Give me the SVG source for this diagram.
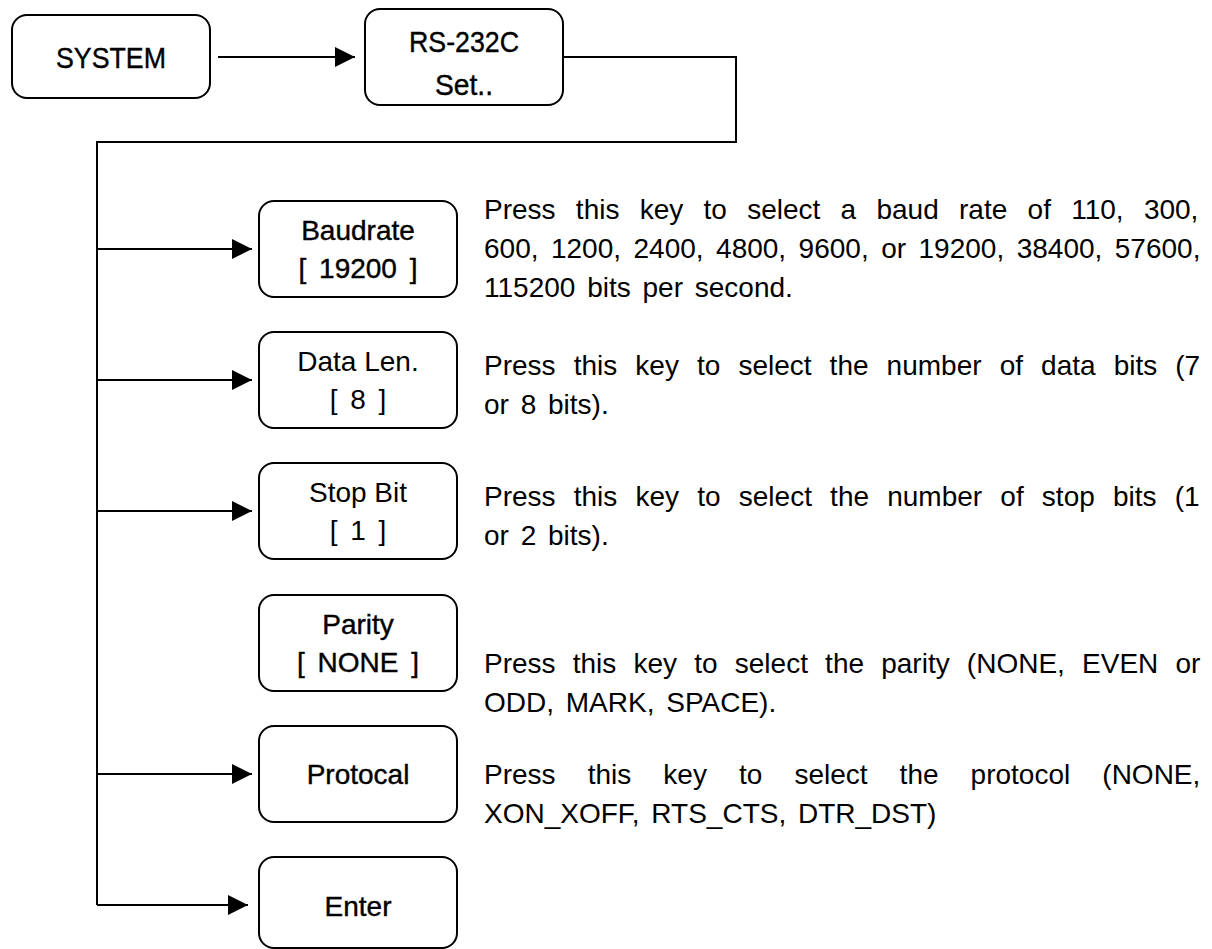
<svg xmlns="http://www.w3.org/2000/svg" width="1212" height="949" viewBox="0 0 1212 949">
<style>
.box{fill:#fff;stroke:#000;stroke-width:2}
.lbl{font-family:"Liberation Sans",Arial,sans-serif;font-size:28px;fill:#000;text-anchor:middle}
.hv{stroke:#000;stroke-width:0.4px}
.big{font-size:30px}
.br{word-spacing:5px}
.desc{font-family:"Liberation Sans",Arial,sans-serif;font-size:28px;fill:#000}
.con{fill:none;stroke:#000;stroke-width:2}
</style>
<defs>
<marker id="ah" markerUnits="userSpaceOnUse" markerWidth="20" markerHeight="20" refX="20" refY="10" orient="auto" viewBox="0 0 20 20">
<path d="M0,0 L20,10 L0,20 z" fill="#000"/>
</marker>
</defs>
<rect width="1212" height="949" fill="#fff"/>
<g id="connectors">
<line class="con" x1="218" y1="57" x2="355" y2="57" marker-end="url(#ah)"/>
<polyline class="con" points="563,57 736,57 736,142 97,142 97,905"/>
<line class="con" x1="97" y1="249" x2="252" y2="249" marker-end="url(#ah)"/>
<line class="con" x1="97" y1="380" x2="252" y2="380" marker-end="url(#ah)"/>
<line class="con" x1="97" y1="511" x2="252" y2="511" marker-end="url(#ah)"/>
<line class="con" x1="97" y1="774" x2="252" y2="774" marker-end="url(#ah)"/>
<line class="con" x1="97" y1="905" x2="248" y2="905" marker-end="url(#ah)"/>
</g>
<g id="system">
<rect class="box" x="12" y="15" width="198" height="83" rx="15"/>
<text class="lbl hv big" x="111" y="68" textLength="110" lengthAdjust="spacingAndGlyphs">SYSTEM</text>
</g>
<g id="rs232c">
<rect class="box" x="365" y="9" width="198" height="96" rx="15"/>
<text class="lbl hv big" x="464" y="52" textLength="110" lengthAdjust="spacingAndGlyphs">RS-232C</text>
<text class="lbl hv big" x="464" y="95" textLength="58" lengthAdjust="spacingAndGlyphs">Set..</text>
</g>
<g id="baudrate">
<rect class="box" x="259" y="201" width="198" height="96" rx="15"/>
<text class="lbl hv" x="358" y="240">Baudrate</text>
<text class="lbl br hv" x="358" y="278">[ 19200 ]</text>
<text class="desc" x="484" y="219" style="word-spacing:12.5px">Press this key to select a baud rate of 110, 300,</text>
<text class="desc" x="484" y="258" style="word-spacing:4.7px">600, 1200, 2400, 4800, 9600, or 19200, 38400, 57600,</text>
<text class="desc" x="484" y="297" style="word-spacing:4px">115200 bits per second.</text>
</g>
<g id="datalen">
<rect class="box" x="259" y="332" width="198" height="96" rx="15"/>
<text class="lbl" x="358" y="371">Data Len.</text>
<text class="lbl br" x="358" y="409">[ 8 ]</text>
<text class="desc" x="484" y="375" style="word-spacing:10.3px">Press this key to select the number of data bits (7</text>
<text class="desc" x="484" y="414" style="word-spacing:4px">or 8 bits).</text>
</g>
<g id="stopbit">
<rect class="box" x="259" y="463" width="198" height="96" rx="15"/>
<text class="lbl" x="358" y="502">Stop Bit</text>
<text class="lbl br" x="358" y="540">[ 1 ]</text>
<text class="desc" x="484" y="506" style="word-spacing:10.4px">Press this key to select the number of stop bits (1</text>
<text class="desc" x="484" y="545" style="word-spacing:4px">or 2 bits).</text>
</g>
<g id="parity">
<rect class="box" x="259" y="595" width="198" height="96" rx="15"/>
<text class="lbl hv" x="358" y="634">Parity</text>
<text class="lbl br hv" x="358" y="672">[ NONE ]</text>
<text class="desc" x="484" y="673" style="word-spacing:9.4px">Press this key to select the parity (NONE, EVEN or</text>
<text class="desc" x="484" y="712" style="word-spacing:4px">ODD, MARK, SPACE).</text>
</g>
<g id="protocal">
<rect class="box" x="259" y="726" width="198" height="96" rx="15"/>
<text class="lbl hv" x="358" y="784">Protocal</text>
<text class="desc" x="484" y="784" style="word-spacing:24.3px">Press this key to select the protocol (NONE,</text>
<text class="desc" x="484" y="823" style="word-spacing:4px">XON_XOFF, RTS_CTS, DTR_DST)</text>
</g>
<g id="enter">
<rect class="box" x="259" y="857" width="198" height="91" rx="15"/>
<text class="lbl hv" x="358" y="916">Enter</text>
</g>
</svg>
